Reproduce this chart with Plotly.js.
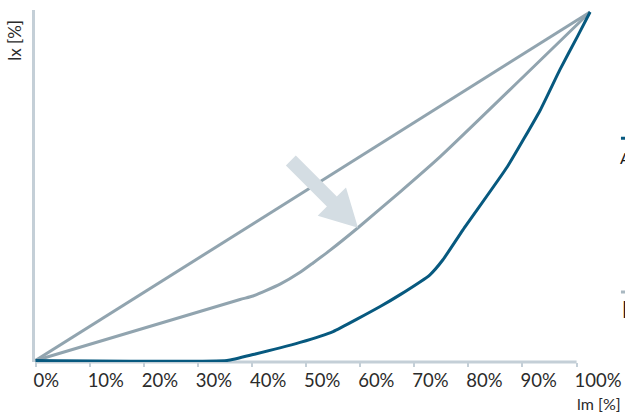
<!DOCTYPE html>
<html>
<head>
<meta charset="utf-8">
<script src="https://cdn.plot.ly/plotly-3.0.1.min.js"></script>
<style>html,body{margin:0;padding:0;background:#fff;}#chart{width:625px;height:414px;}</style>
</head>
<body>
<div id="chart"></div>
<script>
// Tick labels of the x axis
const tickValues = [0, 10, 20, 30, 40, 50, 60, 70, 80, 90, 100];
const tickLabels = ["0%", "10%", "20%", "30%", "40%", "50%", "60%", "70%", "80%", "90%", "100%"];

// Line of equality (straight diagonal)
const equalX = [0, 102.5];
const equalY = [0, 100];

// Intermediate Lorenz curve (grey)
const midX = [0, 37.8, 40.2, 45.2, 48.9, 51.3, 54.4, 59.6, 67.4, 74.8, 102.5];
const midY = [0, 17.5, 18.5, 21.9, 25.3, 28.0, 31.6, 38.1, 48.4, 58.5, 100];

// Lorenz curve (dark blue)
const lorX = [0, 35.4, 40.2, 48.9, 55.0, 63.7, 67.4, 72.9, 75.3, 79.0, 87.2, 93.3, 96.9, 100.1, 102.5];
const lorY = [0, 0, 1.7, 5.2, 8.3, 15.5, 18.9, 24.6, 28.9, 37.5, 55.6, 71.9, 83.4, 92.8, 100];

const grey = "#91a4af";
const dark = "#07597f";
const axisCol = "#c4cfd7";
const font = "Lato, 'Open Sans', sans-serif";

const traces = [
  {x: equalX, y: equalY, mode: "lines", line: {color: grey, width: 3}, hoverinfo: "skip"},
  {x: midX, y: midY, mode: "lines", line: {color: grey, width: 3, shape: "spline", smoothing: 0.5}, hoverinfo: "skip"},
  {x: lorX, y: lorY, mode: "lines", line: {color: dark, width: 3, shape: "spline", smoothing: 0.4}, hoverinfo: "skip"}
];

const layout = {
  width: 625, height: 414,
  margin: {l: 35, r: 33, t: 10, b: 52, pad: 0},
  paper_bgcolor: "#fff", plot_bgcolor: "#fff",
  showlegend: false,
  font: {family: font, size: 18, color: "#2b2b2b"},
  xaxis: {
    range: [-0.1, 102.85], showgrid: false, zeroline: false, showline: false,
    tickmode: "array", tickvals: tickValues, ticktext: tickLabels,
    ticks: "outside", ticklen: 4, tickwidth: 2, tickcolor: axisCol,
    ticklabelposition: "outside right", ticklabelshift: -3, ticklabelstandoff: 2,
    tickfont: {family: font, size: 18.5, color: "#2b2b2b"},
    fixedrange: true, layer: "below traces"
  },
  yaxis: {
    range: [-0.43, 100.57], showgrid: false, zeroline: false,
    showline: true, linecolor: axisCol, linewidth: 3, ticks: "", showticklabels: false,
    fixedrange: true, layer: "below traces"
  },
  shapes: [
    // x axis line
    {type: "line", xref: "x", yref: "paper", x0: -0.3, x1: 100, y0: 0, y1: 0,
     line: {color: axisCol, width: 3}, layer: "below"},
    // arrow pointing to the intermediate curve
    {type: "path", xref: "x", yref: "y", xsizemode: "pixel", ysizemode: "pixel",
     xanchor: 59.6, yanchor: 38.1,
     path: "M -72.1 62.2 L -31.1 21.2 L -40.3 12 L 0 0 L -12 40.3 L -21.2 31.1 L -62.2 72.1 Z",
     fillcolor: "#d4dde3", line: {width: 0}, layer: "above"},
    // cut-off legend markers at the right edge
    {type: "line", xref: "paper", yref: "paper", x0: 1.052, x1: 1.12, y0: 0.636, y1: 0.636,
     line: {color: dark, width: 3}},
    {type: "line", xref: "paper", yref: "paper", x0: 1.052, x1: 1.12, y0: 0.199, y1: 0.199,
     line: {color: "#a9b8c1", width: 3}}
  ],
  annotations: [
    {text: "lx [%]", xref: "paper", yref: "paper", x: -0.036, y: 0.915, textangle: -90,
     showarrow: false, xanchor: "center", yanchor: "middle",
     font: {family: font, size: 17, color: "#2b2b2b"}},
    {text: "lm [%]", xref: "paper", yref: "paper", x: 1.056, y: -0.119,
     showarrow: false, xanchor: "right", yanchor: "middle",
     font: {family: font, size: 16, color: "#2b2b2b"}},
    {text: "A", xref: "paper", yref: "paper", x: 1.047, y: 0.58,
     showarrow: false, xanchor: "left", yanchor: "middle",
     font: {family: font, size: 16, color: "#1a1a1a"}},
    {text: "<b>B</b>", xref: "paper", yref: "paper", x: 1.05, y: 0.15,
     showarrow: false, xanchor: "left", yanchor: "middle",
     font: {family: font, size: 23, color: "#1a1a1a"}}
  ]
};

Plotly.newPlot("chart", traces, layout, {displayModeBar: false, staticPlot: true});
</script>
</body>
</html>
